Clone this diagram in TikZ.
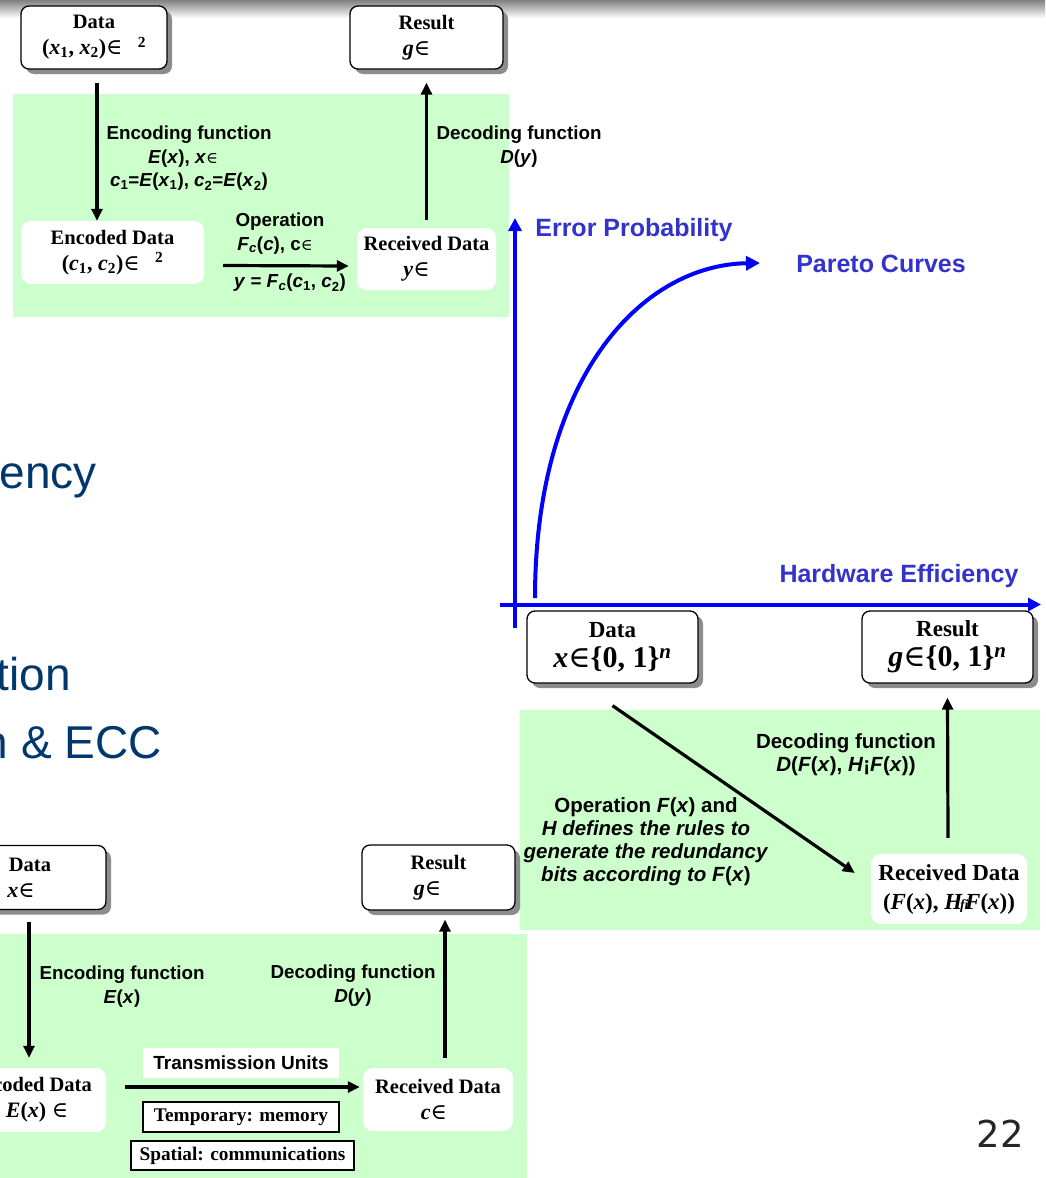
\documentclass[tikz,border=0pt]{standalone}
\usepackage{fontspec}
\setmainfont{Liberation Serif}
\setsansfont{Liberation Sans}
\newfontfamily\pagenumfont{DejaVu Sans}
\newfontfamily\elemfont{DejaVu Serif}
\usetikzlibrary{arrows.meta,shadows}
\definecolor{panelgreen}{RGB}{204,255,204}
\definecolor{axisblue}{RGB}{0,0,255}
\definecolor{labelblue}{RGB}{51,51,204}
\definecolor{slideblue}{RGB}{0,56,110}
\newcommand\fsz[2]{\fontsize{#1}{#2}\selectfont}
\newcommand\gapto[1]{\rule{#1}{0pt}}
% thin set-membership sign
\newcommand\elem{{\elemfont\mdseries\upshape ∈}}

\begin{document}
\begin{tikzpicture}[x=1pt,y=-1pt,
  databox/.style={draw=black, line width=1.3pt, fill=white, rounded corners=8pt,
    drop shadow={shadow xshift=5pt, shadow yshift=-5pt, fill=black!45, opacity=1},
    align=center, inner sep=0pt, font=\bfseries\fsz{20.5}{26}},
  bigbox/.style={databox, font=\bfseries\fsz{23}{30}},
  whitebox/.style={fill=white, rounded corners=10pt, align=center, inner sep=0pt,
    font=\bfseries\fsz{20.5}{26}},
  unitbox/.style={draw=black, line width=1.3pt, fill=white, inner sep=0pt,
    font=\bfseries\fsz{19.3}{22}},
  flow/.style={line width=3.2pt, -{Triangle[length=12pt,width=11pt]}},
  note/.style={font=\sffamily\bfseries\fsz{18.8}{23.5}, align=center, inner sep=0pt},
  bignote/.style={font=\sffamily\bfseries\fsz{20.5}{23}, align=center, inner sep=0pt},
  axis/.style={axisblue, line width=4pt, -{Triangle[length=13pt,width=13pt]}},
  axislabel/.style={labelblue, font=\sffamily\bfseries\fsz{25}{30}, inner sep=0pt},
  slidetext/.style={slideblue, font=\sffamily\fsz{46}{50}, inner sep=0pt, anchor=base east}
]
\useasboundingbox (0,0) rectangle (1045,1178);
\clip (0,0) rectangle (1045,1178);

% slide header band
\shade[top color=black!50, bottom color=white] (0,0) rectangle (1045,18);

% green working areas
\fill[panelgreen] (13,94) rectangle (509,317);
\fill[panelgreen] (520,710) rectangle (1040,930);
\fill[panelgreen] (0,934) rectangle (527,1178);

% slide body text running off the left edge
\node[slidetext] (bodyA) at (97,488) {ency};
\node[slidetext] (bodyB) at (71,690) {tion};
\node[slidetext] (bodyC) at (162,758) {n \& ECC};

% ---------- arithmetic code scheme ----------
\node[databox, minimum width=146pt, minimum height=63pt] (dataA) at (94,37.5)
  {Data\\\fsz{22}{26}(\textit{x}\textsubscript{1}, \textit{x}\textsubscript{2})\elem\hspace{0.7em}\textsuperscript{2}};
\node[databox, minimum width=153pt, minimum height=63pt] (resA) at (426.5,37.5)
  {Result\\\fsz{22}{26}\textit{g}\elem\gapto{20pt}};
\node[whitebox, minimum width=183pt, minimum height=63pt] (encA) at (112.5,252.5)
  {Encoded Data\\\fsz{22}{26}(\textit{c}\textsubscript{1}, \textit{c}\textsubscript{2})\elem\hspace{0.7em}\textsuperscript{2}};
\node[whitebox, minimum width=139pt, minimum height=62pt] (recA) at (426.5,259)
  {Received Data\\\fsz{22}{26}\textit{y}\elem\gapto{20pt}};

\draw[flow] ([xshift=3pt,yshift=-13pt]dataA.south) -- ([xshift=-15.5pt]encA.north);
\draw[flow] ([xshift=19pt,yshift=-13pt]encA.east) -- ([xshift=-8pt,yshift=-7pt]recA.west);
\draw[flow] ([yshift=8pt]recA.north) -- ([yshift=-13pt]resA.south);

\node[note] (encLblA) at (189,158.5)
  {Encoding function\\\textit{E}(\textit{x}), \textit{x}{\fsz{16}{16}\elem}\gapto{12pt}\\
   \textit{c}\textsubscript{1}=\textit{E}(\textit{x}\textsubscript{1}), \textit{c}\textsubscript{2}=\textit{E}(\textit{x}\textsubscript{2})};
\node[note] (decLblA) at (519,146.5) {Decoding function\\\textit{D}(\textit{y})};
\node[note] (opLblA) at (280,233.5)
  {Operation\\\textit{F}\textsubscript{\textit{c}}(\textit{c}), c{\fsz{16}{16}\elem}\gapto{10pt}};
\node[note] (opEqA) at (290,283)
  {\textit{y} = \textit{F}\textsubscript{\textit{c}}(\textit{c}\textsubscript{1}, \textit{c}\textsubscript{2})};

% ---------- trade-off chart ----------
\coordinate (yBase) at (515,628);
\coordinate (yTop) at (515,218);
\coordinate (xBase) at (500,604.5);
\coordinate (xEnd) at (1041,604.5);
\draw[axis] (yBase) -- (yTop);
\draw[axis] (xBase) -- (xEnd);
\coordinate (curveStart) at (535,598);
\coordinate (curveEnd) at (760,263);
\draw[axisblue, line width=4pt, -{Triangle[length=14pt,width=14pt]}]
  (curveStart) .. controls (535,380) and (640,265) .. (curveEnd);

\node[axislabel] (epLbl) at (634,230) {Error Probability};
\node[axislabel] (pcLbl) at (881,264) {Pareto Curves};
\node[axislabel] (heLbl) at (899,576) {Hardware Efficiency};

% ---------- parity / redundancy scheme ----------
\node[bigbox, minimum width=171pt, minimum height=72pt] (dataC) at (612.5,647)
  {Data\\\fsz{30}{31}\textit{x}\elem\{0, 1\}\textsuperscript{\textit{n}}};
\node[bigbox, minimum width=171pt, minimum height=72pt] (resC) at (947.5,647)
  {Result\\\fsz{30}{31}\textit{g}\elem\{0, 1\}\textsuperscript{\textit{n}}};
\node[whitebox, font=\bfseries\fsz{23}{29}, minimum width=156pt, minimum height=70pt] (recC) at (949,889)
  {Received Data\\(\textit{F}(\textit{x}), \textit{H}\kern-0.12em{\fsz{14}{14}\textit{fi}}\kern-0.15em\textit{F}(\textit{x}))};

\draw[flow] ([yshift=-22pt]dataC.south) -- ([xshift=-16pt,yshift=16pt]recC.west);
\draw[flow] ([xshift=-1pt,yshift=16pt]recC.north) -- ([yshift=-14pt]resC.south);

\node[bignote] (decLblC) at (846,754.5)
  {Decoding function\\\textit{D}(\textit{F}(\textit{x}), \textit{H}{\upshape ¡}\textit{F}(\textit{x}))};
\node[bignote] (opLblC) at (646,841.5)
  {Operation \textit{F}(\textit{x}) and\\\textit{H defines the rules to}\\
   \textit{generate the redundancy}\\\textit{bits according to F}(\textit{x})};

% ---------- transmission scheme ----------
\node[databox, minimum width=152pt, minimum height=64pt] (dataB) at (30,877.5)
  {Data\\\fsz{22}{26}\textit{x}\elem\gapto{18pt}};
\node[databox, minimum width=153pt, minimum height=65pt] (resB) at (438.5,877.5)
  {Result\\\fsz{22}{26}\textit{g}\elem\gapto{22pt}};
\node[whitebox, minimum width=152pt, minimum height=64pt] (encB) at (30,1100)
  {Encoded Data\\\fsz{22}{26}\gapto{14pt}\textit{E}(\textit{x}) \elem};
\node[whitebox, minimum width=150pt, minimum height=63pt] (recB) at (438,1099.5)
  {Received Data\\\fsz{22}{26}\textit{c}\elem\gapto{8pt}};

\draw[flow] ([xshift=-1pt,yshift=-11.5pt]dataB.south) -- ([xshift=-1pt,yshift=10pt]encB.north);
\draw[flow] ([xshift=19pt,yshift=13pt]encB.east) -- ([xshift=-3pt,yshift=12.5pt]recB.west);
\draw[flow] ([xshift=7pt,yshift=10pt]recB.north) -- ([xshift=6.5pt,yshift=-9pt]resB.south);

\node[note] (encLblB) at (122,986.5) {Encoding function\\\textit{E}(\textit{x})};
\node[note] (decLblB) at (353,985.5) {Decoding function\\\textit{D}(\textit{y})};

\node[fill=white, inner sep=0pt, minimum width=196pt, minimum height=30pt,
  font=\sffamily\bfseries\fsz{19}{22}] (txUnits) at (241,1063) {Transmission Units};
\node[unitbox, minimum width=196pt, minimum height=30pt] (tmpMem) at (241,1117) {Temporary: memory};
\node[unitbox, minimum width=223pt, minimum height=29pt] (spComm) at (242.5,1155.5) {Spatial: communications};

% slide number
\node[font=\pagenumfont\fsz{37}{40}, text=black!85, inner sep=0pt] (pageNo) at (1000,1134) {22};
\end{tikzpicture}
\end{document}
